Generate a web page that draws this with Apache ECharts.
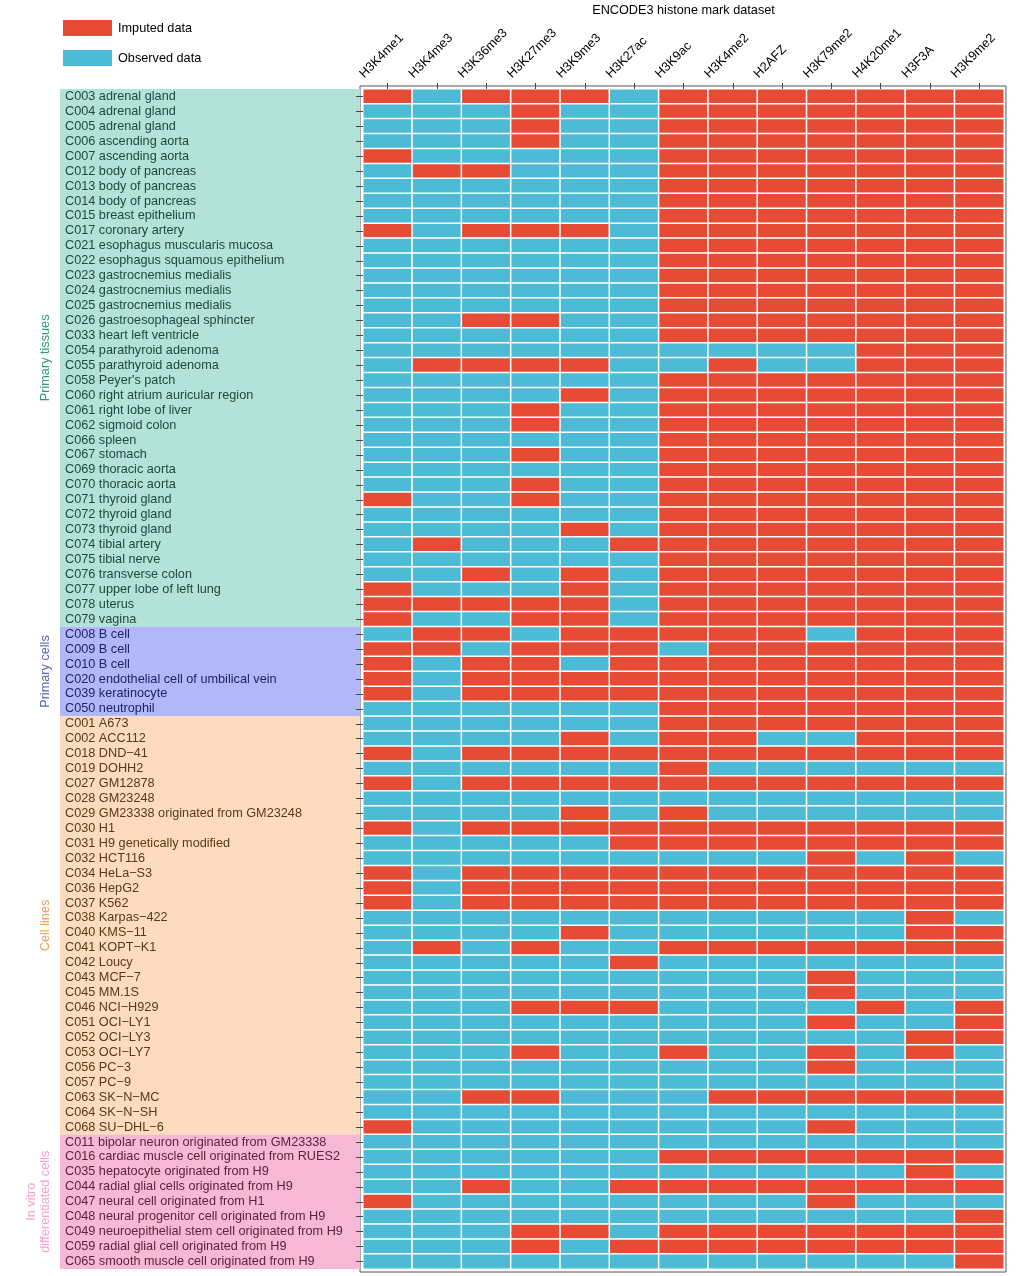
<!DOCTYPE html>
<html><head><meta charset="utf-8">
<script src="https://cdn.jsdelivr.net/npm/echarts@6/dist/echarts.min.js"></script>
<style>html,body{margin:0;padding:0;background:#fff}#c{width:1032px;height:1276px}</style>
</head><body><div id="c"></div><script>
// ---------- data ----------
const marks = ['H3K4me1','H3K4me3','H3K36me3','H3K27me3','H3K9me3','H3K27ac','H3K9ac','H3K4me2','H2AFZ','H3K79me2','H4K20me1','H3F3A','H3K9me2'];
const statusNames = ['Observed data', 'Imputed data'];   // 0 = observed, 1 = imputed
const groupNames = ['Primary tissues', 'Primary cells', 'Cell lines', 'In vitro\ndifferentiated cells'];

const tissueLabels = ['C003 adrenal gland','C004 adrenal gland','C005 adrenal gland','C006 ascending aorta','C007 ascending aorta','C012 body of pancreas','C013 body of pancreas','C014 body of pancreas','C015 breast epithelium','C017 coronary artery','C021 esophagus muscularis mucosa','C022 esophagus squamous epithelium','C023 gastrocnemius medialis','C024 gastrocnemius medialis','C025 gastrocnemius medialis','C026 gastroesophageal sphincter','C033 heart left ventricle','C054 parathyroid adenoma','C055 parathyroid adenoma',"C058 Peyer's patch",'C060 right atrium auricular region','C061 right lobe of liver','C062 sigmoid colon','C066 spleen','C067 stomach','C069 thoracic aorta','C070 thoracic aorta','C071 thyroid gland','C072 thyroid gland','C073 thyroid gland','C074 tibial artery','C075 tibial nerve','C076 transverse colon','C077 upper lobe of left lung','C078 uterus','C079 vagina'];
const tissueStatus = ['1011101111111','0001001111111','0001001111111','0001001111111','1000001111111','0110001111111','0000001111111','0000001111111','0000001111111','1011101111111','0000001111111','0000001111111','0000001111111','0000001111111','0000001111111','0011001111111','0000001111111','0000000000111','0111100100111','0000001111111','0000101111111','0001001111111','0001001111111','0000001111111','0001001111111','0000001111111','0001001111111','1001001111111','0000001111111','0000101111111','0100011111111','0000001111111','0010101111111','1000101111111','1111101111111','1001101111111'];

const cellLabels = ['C008 B cell','C009 B cell','C010 B cell','C020 endothelial cell of umbilical vein','C039 keratinocyte','C050 neutrophil'];
const cellStatus = ['0110111110111','1101110111111','1011011111111','1011111111111','1011111111111','0000001111111'];

const lineLabels = ['C001 A673','C002 ACC112','C018 DND\u221241','C019 DOHH2','C027 GM12878','C028 GM23248','C029 GM23338 originated from GM23248','C030 H1','C031 H9 genetically modified','C032 HCT116','C034 HeLa\u2212S3','C036 HepG2','C037 K562','C038 Karpas\u2212422','C040 KMS\u221211','C041 KOPT\u2212K1','C042 Loucy','C043 MCF\u22127','C045 MM.1S','C046 NCI\u2212H929','C051 OCI\u2212LY1','C052 OCI\u2212LY3','C053 OCI\u2212LY7','C056 PC\u22123','C057 PC\u22129','C063 SK\u2212N\u2212MC','C064 SK\u2212N\u2212SH','C068 SU\u2212DHL\u22126'];
const lineStatus = ['0000001111111','0000101100111','1011111111111','0000001000000','1011111111111','0000000000000','0000101000000','1011111111111','0000011111111','0000000001010','1011111111111','1011111111111','1011111111111','0000000000010','0000100000011','0101001111111','0000010000000','0000000001000','0000000001000','0001110000101','0000000001001','0000000000011','0001001001010','0000000001000','0000000000000','0011000111111','0000000000000','1000000001000'];

const vitroLabels = ['C011 bipolar neuron originated from GM23338','C016 cardiac muscle cell originated from RUES2','C035 hepatocyte originated from H9','C044 radial glial cells originated from H9','C047 neural cell originated from H1','C048 neural progenitor cell originated from H9','C049 neuroepithelial stem cell originated from H9','C059 radial glial cell originated from H9','C065 smooth muscle cell originated from H9'];
const vitroStatus = ['0000000000000','0000001111111','0000000000010','0010011111111','1000000001000','0000000000001','0001101111111','0001011111111','0000000000001'];

// ---------- styles ----------
const RED = '#E64B35', BLUE = '#4DBBD5';
const bandColors = ['#B3E2D8', '#B2B7FA', '#FCDBBF', '#F7B8D6'];
const rowTextColors = ['#1C4A40', '#1E2266', '#5A3A16', '#5A2342'];
const groupTextColors = ['#2E9E72', '#5A64B8', '#F0A04C', '#F4A2CE'];
const FONT = '"Liberation Sans", Arial, Helvetica, sans-serif';
const FS = 12.7;

// ---------- build ----------
const groupLabels = [tissueLabels, cellLabels, lineLabels, vitroLabels];
const groupStatus = [tissueStatus, cellStatus, lineStatus, vitroStatus];
const rows = [], rowGroup = [], heat = [], groups = [];
groupLabels.forEach((labels, g) => {
  const start = rows.length;
  labels.forEach((lab, i) => {
    const r = rows.length;
    rows.push(lab); rowGroup.push(g);
    groupStatus[g][i].split('').forEach((ch, c) => heat.push([c, r, +ch]));
  });
  groups.push([0, start, rows.length - 1, g]);
});

const rich = {};
rowTextColors.forEach((col, g) => { rich['g' + g] = {color: col, fontSize: FS, fontFamily: FONT}; });

const chart = echarts.init(document.getElementById('c'), null, {renderer: 'canvas'});
chart.setOption({
  animation: false,
  textStyle: {fontFamily: FONT},
  grid: [
    {left: 363, top: 89, width: 641, height: 1180, outerBoundsMode: 'none', containLabel: false},   // heatmap
    {left: 60, top: 89, width: 300, height: 1180, outerBoundsMode: 'none', containLabel: false},    // row label bands
    {left: 337, top: 89, width: 641, height: 1180, outerBoundsMode: 'none', containLabel: false},   // rotated column labels
    {left: 360, top: 86, width: 646, height: 1186, outerBoundsMode: 'none', containLabel: false,
     show: true, borderColor: '#555', borderWidth: 1, backgroundColor: 'transparent'} // frame
  ],
  xAxis: [
    {type: 'category', gridIndex: 0, data: marks, position: 'top', z: 10,
     name: 'ENCODE3 histone mark dataset', nameLocation: 'middle', nameGap: 72,
     nameTextStyle: {fontSize: FS, color: '#000', fontFamily: FONT},
     axisLine: {show: false}, axisTick: {show: true, alignWithLabel: true, interval: 0, length: 6, lineStyle: {color: '#444'}},
     axisLabel: {show: false, interval: 0}, splitLine: {show: false}},
    {type: 'value', gridIndex: 1, min: 0, max: 1, show: false},
    {type: 'category', gridIndex: 2, data: marks, position: 'top',
     axisLine: {show: false}, axisTick: {show: false},
     axisLabel: {interval: 0, rotate: 45, margin: 13, fontSize: FS, color: '#000', fontFamily: FONT}},
    {type: 'value', gridIndex: 3, show: false}
  ],
  yAxis: [
    {type: 'category', gridIndex: 0, data: rows, inverse: true, z: 10,
     axisLine: {show: false}, axisTick: {show: true, alignWithLabel: true, length: 7, interval: 0, lineStyle: {color: '#444'}},
     axisLabel: {show: false, interval: 0}, splitLine: {show: false}},
    {type: 'category', gridIndex: 1, data: rows, inverse: true, z: 10,
     axisLine: {show: false}, axisTick: {show: false},
     axisLabel: {inside: true, interval: 0, margin: 5, fontSize: FS,
       formatter: (v, i) => '{g' + rowGroup[i] + '|' + v + '}', rich: rich}},
    {type: 'value', gridIndex: 2, show: false},
    {type: 'value', gridIndex: 3, show: false}
  ],
  visualMap: {
    type: 'piecewise', seriesIndex: 0, dimension: 2, orient: 'vertical',
    left: 48, top: 5, itemWidth: 49, itemHeight: 16, itemGap: 14, textGap: 6,
    itemSymbol: 'rect', selectedMode: false, hoverLink: false,
    textStyle: {fontSize: FS, color: '#000', fontFamily: FONT},
    pieces: [
      {value: 0, label: statusNames[0], color: BLUE},
      {value: 1, label: statusNames[1], color: RED}
    ]
  },
  series: [
    {type: 'heatmap', xAxisIndex: 0, yAxisIndex: 0, data: heat,
     itemStyle: {borderColor: '#fff', borderWidth: 1.5},
     emphasis: {disabled: true}, label: {show: false}},
    {type: 'custom', xAxisIndex: 1, yAxisIndex: 1, data: groups, clip: false, z: 1, silent: true,
     renderItem: (params, api) => {
       const s = api.value(1), e = api.value(2), g = api.value(3);
       const h = api.size([0, 1])[1];
       const y0 = api.coord([0, s])[1] - h / 2;
       const y1 = api.coord([0, e])[1] + h / 2;
       const cs = params.coordSys;
       return {type: 'group', children: [
         {type: 'rect', shape: {x: cs.x, y: y0, width: cs.width, height: y1 - y0}, style: {fill: bandColors[g]}},
         {type: 'text', x: cs.x - 8, y: (y0 + y1) / 2, rotation: Math.PI / 2,
          style: {text: groupNames[g], fill: groupTextColors[g], align: 'center', verticalAlign: 'bottom',
                  fontSize: FS, fontFamily: FONT, lineHeight: 14}}
       ]};
     }}
  ]
});
</script></body></html>
